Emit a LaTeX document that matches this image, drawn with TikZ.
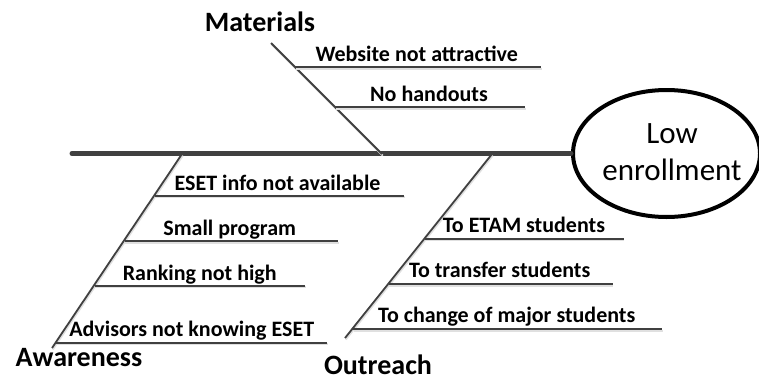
\documentclass[tikz,border=0pt]{standalone}
\usepackage{fontspec}
\setmainfont{Carlito}
\usetikzlibrary{shapes.geometric}
\definecolor{bonegray}{RGB}{64,64,64}
\definecolor{shadegray}{RGB}{224,224,224}
\begin{document}
\begin{tikzpicture}[x=1pt,y=-1pt,
  shade line/.style={preaction={draw=shadegray, line width=1.8pt,
      transform canvas={shift={(0.8pt,-1.6pt)}}}},
  spine/.style={draw=bonegray, line width=5pt, line cap=round},
  bone/.style={draw=bonegray, line width=1.8pt, shade line},
  cause/.style={draw=bonegray, line width=1.8pt, shade line},
  causetext/.style={anchor=base, inner sep=0pt,
      font=\fontsize{22}{26}\selectfont\bfseries},
  cattext/.style={anchor=base, inner sep=0pt, text depth=0pt,
      font=\fontsize{28}{32}\selectfont\bfseries},
  effect/.style={draw=black, line width=4pt, ellipse, inner sep=0pt,
      minimum width=187pt, minimum height=127pt},
  effecttext/.style={anchor=base, inner sep=0pt, align=center,
      font=\fontsize{31}{37}\selectfont}
]
\useasboundingbox (0,0) rectangle (759,380);

% head of the fish
\node[effect] (goal) at (666.5,153.5) {};
\node[effecttext] (goaltext) at (672,180) {Low\\enrollment};

% spine
\coordinate (tail) at (72,153.5);
\draw[spine] (tail) -- (goal.west);

% Materials bone
\coordinate (m0) at (271,43);
\coordinate (m1) at (382,154);
\draw[bone] (m0) -- (m1);
\node[cattext] (materials) at (260,31.7) {Materials};
\coordinate (mw0) at (295,67);   \coordinate (mw1) at (541,67);
\coordinate (mn0) at (335,107);  \coordinate (mn1) at (525,107);
\draw[cause] (mw0) -- (mw1);
\draw[cause] (mn0) -- (mn1);
\node[causetext] (website) at (416.7,61.5) {Website not attractive};
\node[causetext] (handouts) at (429,101.5) {No handouts};

% Awareness bone
\coordinate (a0) at (182,154);
\coordinate (a1) at (52,348);
\draw[bone] (a0) -- (a1);
\node[cattext] (awareness) at (79,366.5) {Awareness};
\coordinate (ae0) at (155,195.7);  \coordinate (ae1) at (404,195.7);
\coordinate (as0) at (124.5,241);  \coordinate (as1) at (338,241);
\coordinate (ar0) at (94.5,285.7); \coordinate (ar1) at (305,285.7);
\coordinate (aa0) at (56,342.7);   \coordinate (aa1) at (327,342.7);
\draw[cause] (ae0) -- (ae1);
\draw[cause] (as0) -- (as1);
\draw[cause] (ar0) -- (ar1);
\draw[cause] (aa0) -- (aa1);
\node[causetext] (eset) at (277.5,190) {ESET info not available};
\node[causetext] (small) at (229.7,235.5) {Small program};
\node[causetext] (ranking) at (199.7,280) {Ranking not high};
\node[causetext] (advisors) at (191.7,336) {Advisors not knowing ESET};

% Outreach bone
\coordinate (o0) at (492,154);
\coordinate (o1) at (345,338);
\draw[bone] (o0) -- (o1);
\node[cattext] (outreach) at (378,374) {Outreach};
\coordinate (oe0) at (424.5,238.7); \coordinate (oe1) at (623.5,238.7);
\coordinate (ot0) at (388.5,284);   \coordinate (ot1) at (612.5,284);
\coordinate (oc0) at (353,329);     \coordinate (oc1) at (662,329);
\draw[cause] (oe0) -- (oe1);
\draw[cause] (ot0) -- (ot1);
\draw[cause] (oc0) -- (oc1);
\node[causetext] (etam) at (524,232.7) {To ETAM students};
\node[causetext] (transfer) at (499.7,277.7) {To transfer students};
\node[causetext] (change) at (506.7,322.7) {To change of major students};
\end{tikzpicture}
\end{document}
